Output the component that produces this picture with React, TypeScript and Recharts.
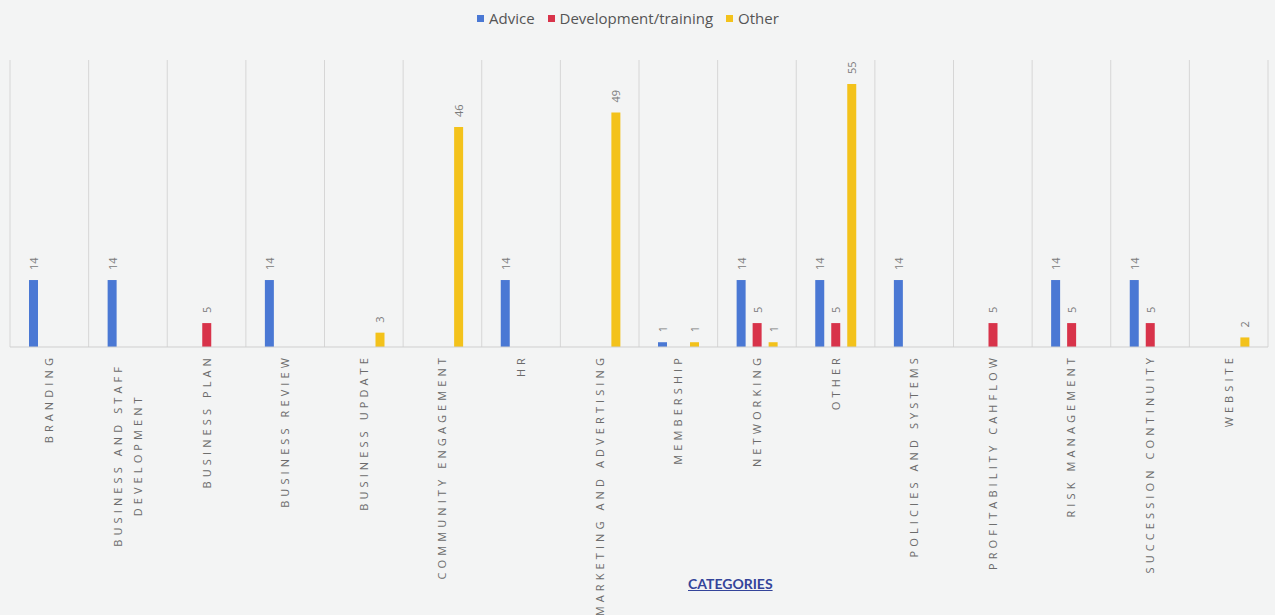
import React from 'react';
import { BarChart, Bar, XAxis, YAxis, CartesianGrid, LabelList } from 'recharts';

const categories = [
  'BRANDING',
  'BUSINESS AND STAFF|DEVELOPMENT',
  'BUSINESS PLAN',
  'BUSINESS REVIEW',
  'BUSINESS UPDATE',
  'COMMUNITY ENGAGEMENT',
  'HR',
  'MARKETING AND ADVERTISING',
  'MEMBERSHIP',
  'NETWORKING',
  'OTHER',
  'POLICIES AND SYSTEMS',
  'PROFITABILITY CAHFLOW',
  'RISK MANAGEMENT',
  'SUCCESSION CONTINUITY',
  'WEBSITE',
];

const advice = [14, 14, null, 14, null, null, 14, null, 1, 14, 14, 14, null, 14, 14, null];
const development = [null, null, 5, null, null, null, null, null, null, 5, 5, null, 5, 5, 5, null];
const other = [null, null, null, null, 3, 46, null, 49, 1, 1, 55, null, null, null, null, 2];

const series = [
  { key: 'advice', name: 'Advice', color: '#4a78d4' },
  { key: 'development', name: 'Development/training', color: '#d8334a' },
  { key: 'other', name: 'Other', color: '#f3c21b' },
];

const data = categories.map((c, i) => ({
  category: c,
  advice: advice[i],
  development: development[i],
  other: other[i],
}));

const W = 1275;
const H = 615;
const labelFont = '"Open Sans", "Noto Sans", sans-serif';

const CategoryTick = (props: any) => {
  const { x, y, payload } = props;
  const lines: string[] = String(payload.value).split('|');
  const charW = 11.2;
  const top = y + 7;
  if (lines.length === 1) {
    return (
      <g transform={`translate(${x}, ${top}) rotate(-90)`}>
        <text x={0} y={4} textAnchor="end" fill="#6b6b6b" fontSize={11} letterSpacing={4.1} fontFamily={labelFont}>
          {lines[0]}
        </text>
      </g>
    );
  }
  const longest = Math.max(...lines.map((l) => l.length));
  const mid = (longest * charW) / 2;
  const step = 20;
  return (
    <g transform={`translate(${x}, ${top}) rotate(-90)`}>
      {lines.map((l, i) => (
        <text
          key={i}
          x={-mid}
          y={4 + (i - (lines.length - 1) / 2) * step}
          textAnchor="middle"
          fill="#6b6b6b"
          fontSize={11}
          letterSpacing={4.1}
          fontFamily={labelFont}
        >
          {l}
        </text>
      ))}
    </g>
  );
};

const ValueLabel = (props: any) => {
  const { x, y, width, value } = props;
  if (value === null || value === undefined) return null;
  const cx = x + width / 2;
  const cy = y - 10;
  return (
    <text
      x={cx}
      y={cy}
      transform={`rotate(-90, ${cx}, ${cy})`}
      textAnchor="start"
      dominantBaseline="central"
      fill="#7a7a7a"
      fontSize={11}
      fontFamily={labelFont}
    >
      {value}
    </text>
  );
};

export default function App() {
  return (
    <div style={{ position: 'absolute', left: 0, top: 0, width: W, height: H, background: '#f3f4f4', overflow: 'hidden' }}>
      <div
        style={{
          position: 'absolute',
          top: 8,
          left: 477,
          display: 'flex',
          alignItems: 'center',
          fontFamily: labelFont,
          fontSize: 15,
          color: '#555',
        }}
      >
        {series.map((s) => (
          <div key={s.key} style={{ display: 'flex', alignItems: 'center', marginRight: 13 }}>
            <span style={{ display: 'inline-block', width: 7, height: 7, background: s.color, marginRight: 5 }} />
            <span>{s.name}</span>
          </div>
        ))}
      </div>
      <BarChart
        width={W}
        height={H}
        data={data}
        margin={{ top: 60, right: 7, left: 10, bottom: 0 }}
        barSize={9}
        barGap={7}
      >
        <CartesianGrid
          horizontal={false}
          stroke="#d6d6d6"
          verticalCoordinatesGenerator={({ offset }: any) => {
            const step = offset.width / categories.length;
            return categories.map((_, i) => offset.left + i * step).concat([offset.left + offset.width]);
          }}
        />
        <XAxis
          dataKey="category"
          interval={0}
          height={268}
          tickLine={false}
          tickSize={0}
          tickMargin={0}
          axisLine={{ stroke: '#cfcfcf' }}
          tick={<CategoryTick />}
        />
        <YAxis hide domain={[0, 60]} />
        {series.map((s) => (
          <Bar key={s.key} dataKey={s.key} name={s.name} fill={s.color} isAnimationActive={false}>
            <LabelList dataKey={s.key} content={<ValueLabel />} />
          </Bar>
        ))}
      </BarChart>
      <div
        style={{
          position: 'absolute',
          top: 575,
          left: 688,
          fontFamily: 'Lato, sans-serif',
          fontWeight: 700,
          fontSize: 14,
          color: '#34449a',
          textDecoration: 'underline',
        }}
      >
        CATEGORIES
      </div>
    </div>
  );
}
